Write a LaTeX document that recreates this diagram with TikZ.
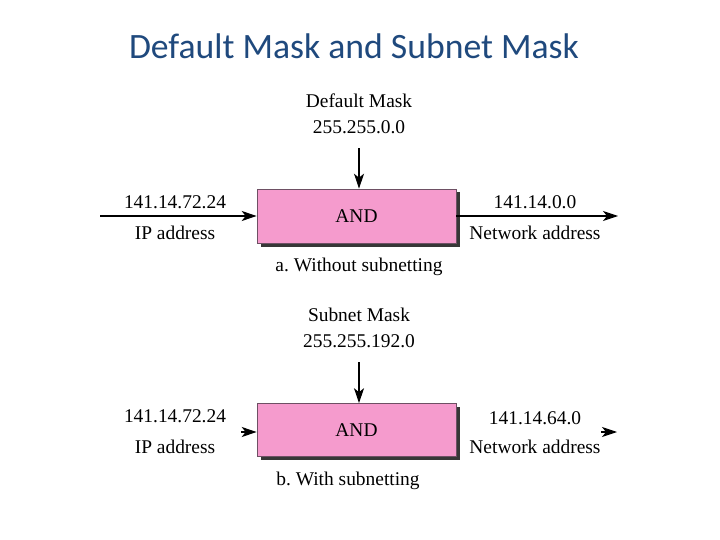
\documentclass[tikz,border=0pt]{standalone}
\usepackage{fontspec}
\setmainfont{Liberation Serif}
\newfontfamily\titlefont{Carlito}
\usepackage{xcolor}
\usetikzlibrary{arrows.meta,positioning,shadows,calc}
\definecolor{titleblue}{RGB}{31,73,125}
\definecolor{andpink}{RGB}{245,155,205}
\definecolor{andborder}{RGB}{110,80,100}
\definecolor{shadowgray}{RGB}{55,55,55}
\frenchspacing

\begin{document}
\begin{tikzpicture}[
  x=1bp, y=-1bp,
  every node/.style={font=\fontsize{19.5}{26}\selectfont, inner sep=0pt},
  andbox/.style={rectangle, minimum width=199bp, minimum height=54bp,
    draw=andborder, line width=0.6bp, fill=andpink,
    drop shadow={shadow xshift=3.5bp, shadow yshift=-3.5bp,
      fill=shadowgray, opacity=1}},
  lbl/.style={anchor=center},
  subcap/.style={anchor=center},
  arr/.style={-{Stealth[length=15bp, width=10bp, inset=4bp]}, line width=1.1bp}
]
  \useasboundingbox (0,0) rectangle (720,540);

  \node[font=\titlefont\fontsize{35.8}{40}\selectfont, text=titleblue]
    (title) at (354,46) {Default Mask and Subnet Mask};

  % a. Without subnetting
  \node[andbox] (anda) at (356.5,216) {AND};
  \node[align=center] (maska) at (359,114) {Default Mask\\255.255.0.0};
  \node[lbl] (ipa) at (175,202) {141.14.72.24};
  \node[lbl] (ipnamea) at (175,233) {IP address};
  \node[lbl] (neta) at (535,202) {141.14.0.0};
  \node[lbl] (netnamea) at (535,233) {Network address};
  \node[subcap] (capa) at (359,267) {a. Without subnetting};
  \coordinate (ina) at (100,216);
  \coordinate (outa) at (618,216);

  % b. With subnetting
  \node[andbox, minimum height=53bp] (andb) at (356.5,430) {AND};
  \node[align=center] (maskb) at (359,328) {Subnet Mask\\255.255.192.0};
  \node[lbl] (ipb) at (175,416) {141.14.72.24};
  \node[lbl] (ipnameb) at (175,447) {IP address};
  \node[lbl] (netb) at (535,418) {141.14.64.0};
  \node[lbl] (netnameb) at (535,447) {Network address};
  \node[subcap] (capb) at (348,481) {b. With subnetting};
  \coordinate (inb) at (241,432);
  \coordinate (outb) at (601,432);
  \coordinate (outbend) at (617,432);

  \draw[arr] ($(maska.south)+(0,14)$) -- (maska |- anda.north);
  \draw[arr] ($(maskb.south)+(0,14)$) -- (maskb |- andb.north);
  \draw[arr] (ina) -- (anda.west);
  \draw[arr] (anda.east) -- (outa);
  \draw[arr] (inb) -- (inb -| andb.west);
  \draw[arr] (outb) -- (outbend);
\end{tikzpicture}
\end{document}
